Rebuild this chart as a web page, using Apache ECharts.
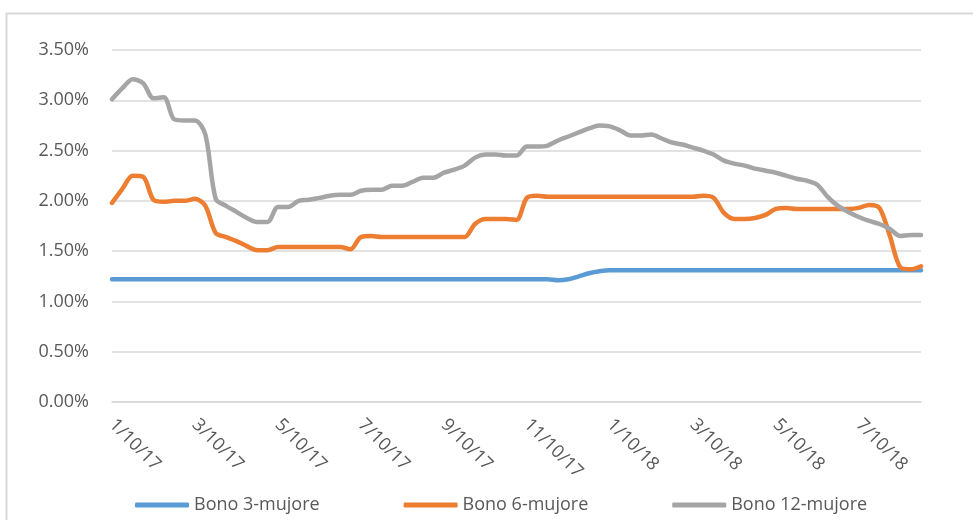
<!DOCTYPE html>
<html>
<head>
<meta charset="utf-8">
<title>Bono</title>
<script src="https://cdn.jsdelivr.net/npm/echarts@6/dist/echarts.min.js"></script>
<style>
  html, body { margin: 0; padding: 0; background: #fff; }
  #chart { width: 973px; height: 520px; }
</style>
</head>
<body>
<div id="chart"></div>
<script>
// dates (x categories)
const categories = [
  '1/10/17', '1/17/17', '1/24/17', '2/3/17',
  '2/10/17', '2/17/17', '2/24/17', '3/3/17',
  '3/10/17', '3/17/17', '3/24/17', '4/3/17',
  '4/10/17', '4/17/17', '4/24/17', '5/3/17',
  '5/10/17', '5/17/17', '5/24/17', '6/3/17',
  '6/10/17', '6/17/17', '6/24/17', '7/3/17',
  '7/10/17', '7/17/17', '7/24/17', '8/3/17',
  '8/10/17', '8/17/17', '8/24/17', '9/3/17',
  '9/10/17', '9/17/17', '9/24/17', '10/3/17',
  '10/10/17', '10/17/17', '10/24/17', '11/3/17',
  '11/10/17', '11/17/17', '11/24/17', '12/3/17',
  '12/10/17', '12/17/17', '12/24/17', '1/3/18',
  '1/10/18', '1/17/18', '1/24/18', '2/3/18',
  '2/10/18', '2/17/18', '2/24/18', '3/3/18',
  '3/10/18', '3/17/18', '3/24/18', '4/3/18',
  '4/10/18', '4/17/18', '4/24/18', '5/3/18',
  '5/10/18', '5/17/18', '5/24/18', '6/3/18',
  '6/10/18', '6/17/18', '6/24/18', '7/3/18',
  '7/10/18', '7/17/18', '7/24/18', '8/3/18',
  '8/10/18', '8/17/18', '8/24/18'
];

// only these dates get a label on the x axis
const tickLabels = ['1/10/17', '3/10/17', '5/10/17', '7/10/17', '9/10/17',
  '11/10/17', '1/10/18', '3/10/18', '5/10/18', '7/10/18'];

const seriesNames = ['Bono 3-mujore', 'Bono 6-mujore', 'Bono 12-mujore'];

// yields in %
const bono3 = [
  1.22, 1.22, 1.22, 1.22, 1.22, 1.22, 1.22, 1.22,
  1.22, 1.22, 1.22, 1.22, 1.22, 1.22, 1.22, 1.22,
  1.22, 1.22, 1.22, 1.22, 1.22, 1.22, 1.22, 1.22,
  1.22, 1.22, 1.22, 1.22, 1.22, 1.22, 1.22, 1.22,
  1.22, 1.22, 1.22, 1.22, 1.22, 1.22, 1.22, 1.22,
  1.22, 1.22, 1.22, 1.21, 1.22, 1.25, 1.28, 1.30,
  1.31, 1.31, 1.31, 1.31, 1.31, 1.31, 1.31, 1.31,
  1.31, 1.31, 1.31, 1.31, 1.31, 1.31, 1.31, 1.31,
  1.31, 1.31, 1.31, 1.31, 1.31, 1.31, 1.31, 1.31,
  1.31, 1.31, 1.31, 1.31, 1.31, 1.31, 1.31
];

const bono6 = [
  1.98, 2.12, 2.25, 2.24, 2.01, 1.99, 2.00, 2.00,
  2.02, 1.95, 1.68, 1.64, 1.60, 1.55, 1.51, 1.51,
  1.54, 1.54, 1.54, 1.54, 1.54, 1.54, 1.54, 1.52,
  1.64, 1.65, 1.64, 1.64, 1.64, 1.64, 1.64, 1.64,
  1.64, 1.64, 1.64, 1.77, 1.82, 1.82, 1.82, 1.81,
  2.03, 2.05, 2.04, 2.04, 2.04, 2.04, 2.04, 2.04,
  2.04, 2.04, 2.04, 2.04, 2.04, 2.04, 2.04, 2.04,
  2.04, 2.05, 2.03, 1.88, 1.82, 1.82, 1.83, 1.86,
  1.92, 1.93, 1.92, 1.92, 1.92, 1.92, 1.92, 1.92,
  1.93, 1.96, 1.93, 1.65, 1.34, 1.32, 1.35
];

const bono12 = [
  3.01, 3.12, 3.21, 3.17, 3.02, 3.03, 2.81, 2.80,
  2.80, 2.66, 2.02, 1.95, 1.89, 1.83, 1.79, 1.79,
  1.94, 1.94, 2.00, 2.01, 2.03, 2.05, 2.06, 2.06,
  2.10, 2.11, 2.11, 2.15, 2.15, 2.19, 2.23, 2.23,
  2.28, 2.31, 2.35, 2.43, 2.46, 2.46, 2.45, 2.45,
  2.54, 2.54, 2.55, 2.60, 2.64, 2.68, 2.72, 2.75,
  2.74, 2.70, 2.65, 2.65, 2.66, 2.62, 2.58, 2.56,
  2.53, 2.50, 2.46, 2.40, 2.37, 2.35, 2.32, 2.30,
  2.28, 2.25, 2.22, 2.20, 2.16, 2.04, 1.95, 1.89,
  1.84, 1.80, 1.77, 1.72, 1.65, 1.66, 1.66
];

const colors = ['#5B9BD5', '#ED7D31', '#A5A5A5'];
const textColor = '#595959';
const fontFamily = '"Open Sans", sans-serif';

const myChart = echarts.init(document.getElementById('chart'), null, { renderer: 'canvas' });

function lineSeries(name, data, color) {
  return {
    name: name,
    type: 'line',
    data: data,
    smooth: 0.3,
    showSymbol: false,
    symbol: 'none',
    lineStyle: { color: color, width: 4.5, cap: 'round', join: 'round' },
    itemStyle: { color: color }
  };
}

const option = {
  animation: false,
  textStyle: { fontFamily: fontFamily },
  graphic: [
    {
      // chart frame
      type: 'rect',
      left: 4,
      top: 11,
      shape: { width: 1000, height: 600 },
      style: { fill: 'none', stroke: '#D9D9D9', lineWidth: 2 }
    }
  ],
  grid: {
    left: 112,
    right: 52,
    top: 50,
    bottom: 118
  },
  legend: {
    data: seriesNames,
    left: 130,
    top: 491,
    icon: 'roundRect',
    itemWidth: 54,
    itemHeight: 5,
    itemGap: 84,
    textStyle: { color: textColor, fontSize: 18, fontFamily: fontFamily }
  },
  xAxis: {
    type: 'category',
    data: categories,
    boundaryGap: false,
    axisLine: { lineStyle: { color: '#D9D9D9', width: 1.5 } },
    axisTick: { show: false },
    axisLabel: {
      interval: function (idx, val) { return tickLabels.indexOf(val) !== -1; },
      rotate: -45,
      margin: 20,
      color: textColor,
      fontSize: 18,
      fontFamily: fontFamily
    },
    splitLine: { show: false }
  },
  yAxis: {
    type: 'value',
    min: 0,
    max: 3.5,
    interval: 0.5,
    axisLine: { show: false },
    axisTick: { show: false },
    axisLabel: {
      formatter: function (v) { return v.toFixed(2) + '%'; },
      margin: 23,
      color: textColor,
      fontSize: 18,
      fontFamily: fontFamily
    },
    splitLine: { lineStyle: { color: '#D9D9D9', width: 1.5 } }
  },
  series: [
    lineSeries(seriesNames[0], bono3, colors[0]),
    lineSeries(seriesNames[1], bono6, colors[1]),
    lineSeries(seriesNames[2], bono12, colors[2])
  ]
};

myChart.setOption(option);
</script>
</body>
</html>
